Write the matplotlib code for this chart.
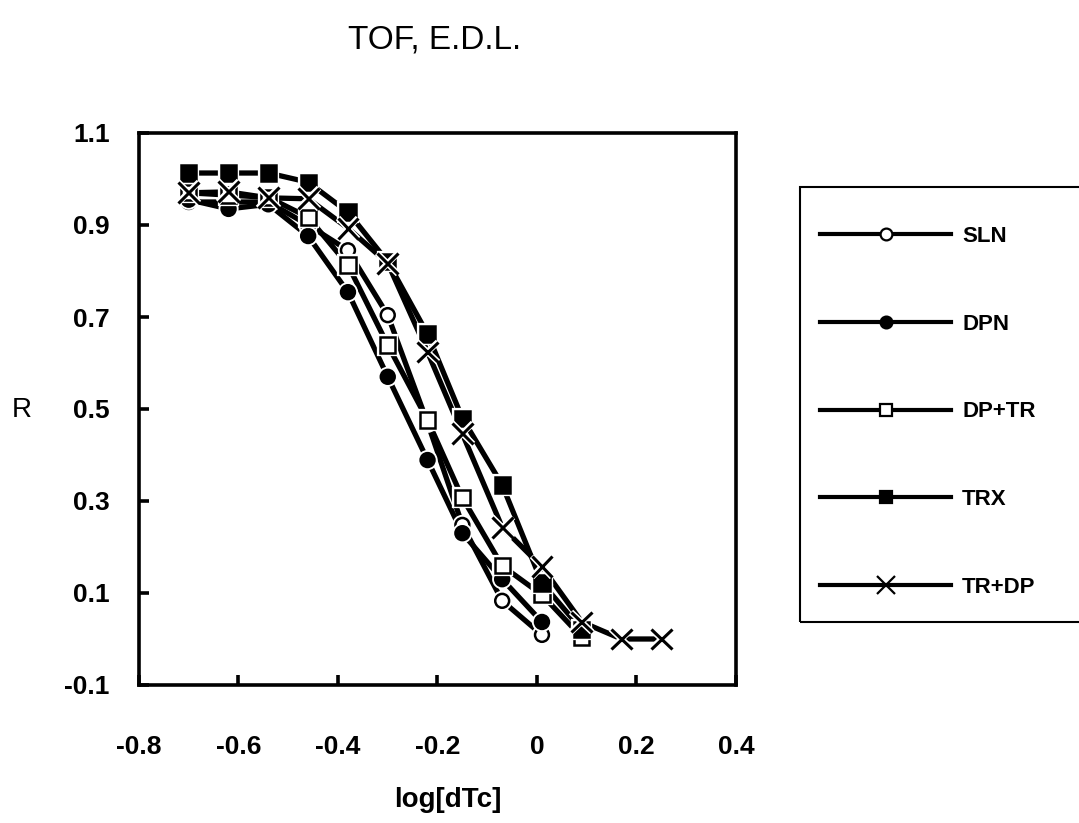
import matplotlib
matplotlib.use("Agg")
import matplotlib.pyplot as plt
from matplotlib.lines import Line2D
from matplotlib.patches import Rectangle
import matplotlib.patheffects as pe

plt.rcParams['font.family'] = ['Liberation Sans', 'DejaVu Sans']

x_all = [-0.70, -0.62, -0.54, -0.46, -0.38, -0.30, -0.22, -0.15, -0.07, 0.01, 0.09, 0.17, 0.25]

sln = [0.95, 0.95, 0.95, 0.90, 0.845, 0.704, 0.47, 0.248, 0.083, 0.009]
dpn = [0.955, 0.935, 0.945, 0.876, 0.754, 0.57, 0.389, 0.23, 0.13, 0.037]
dptr = [0.97, 0.965, 0.96, 0.917, 0.813, 0.639, 0.476, 0.307, 0.159, 0.096, 0.004]
trx = [1.013, 1.013, 1.013, 0.993, 0.928, 0.82, 0.663, 0.48, 0.335, 0.122, 0.02]
trdp = [0.97, 0.972, 0.959, 0.957, 0.893, 0.817, 0.624, 0.446, 0.243, 0.157, 0.037, 0.0, 0.0]

labels = ['SLN', 'DPN', 'DP+TR', 'TRX', 'TR+DP']
xticks = [-0.8, -0.6, -0.4, -0.2, 0, 0.2, 0.4]
xticklabels = ['-0.8', '-0.6', '-0.4', '-0.2', '0', '0.2', '0.4']
yticks = [-0.1, 0.1, 0.3, 0.5, 0.7, 0.9, 1.1]
yticklabels = ['-0.1', '0.1', '0.3', '0.5', '0.7', '0.9', '1.1']

W, H = 1079, 823
fig = plt.figure(figsize=(W/100, H/100), dpi=100)
ax = fig.add_axes([139/W, 1-685/H, (736-139)/W, (685-133)/H])

series = [sln, dpn, dptr, trx, trdp]
styles = [
    dict(marker='o', mfc='white', ms=10, mew=1.8),
    dict(marker='o', mfc='black', ms=10, mew=1.8),
    dict(marker='s', mfc='white', ms=11, mew=1.8),
    dict(marker='s', mfc='black', ms=11, mew=1.8),
    dict(marker='x', mfc='none', ms=15, mew=2.2),
]
halo = [pe.withStroke(linewidth=4.5, foreground='white')]
handles = []
for i, (lab, ys, st) in enumerate(zip(labels, series, styles)):
    xs = x_all[:len(ys)]
    ax.plot(xs, ys, color='black', lw=3.8, solid_capstyle='butt', zorder=2 + i * 0.1)
    ax.plot(xs, ys, linestyle='none', color='black', mec='black', zorder=3 + i * 0.1,
            path_effects=halo, **st)
    handles.append(Line2D([], [], color='black', lw=3.0,
                          marker=st['marker'], mfc=st['mfc'], mec='black',
                          ms=st['ms'] * 0.85, mew=1.6))

ax.set_xlim(-0.8, 0.4)
ax.set_ylim(-0.1, 1.1)
ax.set_xticks(xticks)
ax.set_xticklabels(xticklabels)
ax.set_yticks(yticks)
ax.set_yticklabels(yticklabels)
for s in ax.spines.values():
    s.set_linewidth(2.6)
ax.tick_params(direction='in', length=7, width=2.6, labelsize=19)
ax.tick_params(axis='y', pad=21)
ax.tick_params(axis='x', pad=36)
for t in ax.get_xticklabels() + ax.get_yticklabels():
    t.set_fontweight('bold')

fig.text(22/W, 1-410/H, 'R', fontsize=20, ha='center', va='center')
fig.text(448/W, 1-800/H, 'log[dTc]', fontsize=20, fontweight='bold', ha='center', va='center')
fig.text(435/W, 1-40/H, 'TOF, E.D.L.', fontsize=24, ha='center', va='center')

# legend box
fig.patches.append(Rectangle((800/W, 1-622/H), 300/W, (622-187)/H,
                             transform=fig.transFigure, fill=False,
                             edgecolor='black', linewidth=1.5))
leg = fig.legend(handles, labels, loc='upper left',
                 bbox_to_anchor=(820/W, 1-226/H),
                 frameon=False,
                 prop={'size': 16, 'weight': 'bold'},
                 handlelength=5.9, handletextpad=0.5,
                 labelspacing=3.0, borderpad=0, borderaxespad=0)

fig.savefig('out.png', dpi=100)
